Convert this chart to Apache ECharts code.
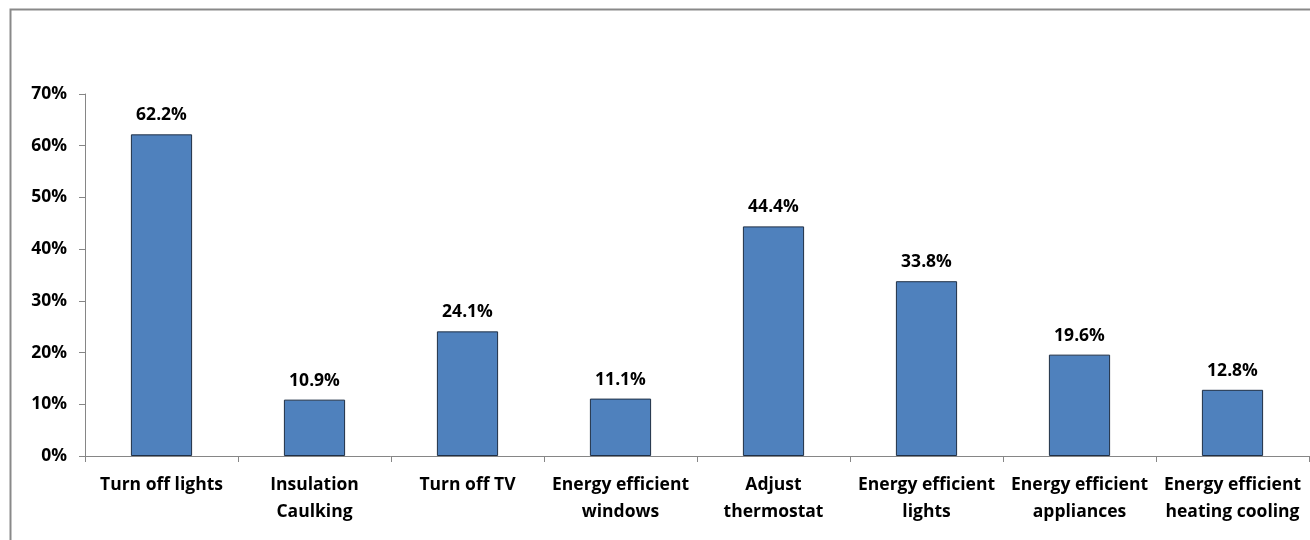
<!DOCTYPE html>
<html>
<head>
<meta charset="utf-8">
<script src="https://cdn.jsdelivr.net/npm/echarts@6/dist/echarts.min.js"></script>
<style>
  html, body { margin: 0; padding: 0; background: #fff; }
  #chart { width: 1310px; height: 540px; }
</style>
</head>
<body>
<div id="chart"></div>
<script>
// Share of respondents taking each energy-saving action (percent)
const categories = [
  'Turn off lights',
  'Insulation\nCaulking',
  'Turn off TV',
  'Energy efficient\nwindows',
  'Adjust\nthermostat',
  'Energy efficient\nlights',
  'Energy efficient\nappliances',
  'Energy efficient\nheating cooling'
];
const values = [62.2, 10.9, 24.1, 11.1, 44.4, 33.8, 19.6, 12.8];
const yTicks = [0, 10, 20, 30, 40, 50, 60, 70];

const font = '"Open Sans", Lato, sans-serif';
const chart = echarts.init(document.getElementById('chart'), null, { renderer: 'canvas' });

chart.setOption({
  animation: false,
  backgroundColor: '#ffffff',
  graphic: [{
    type: 'rect',
    left: 8, top: 7,
    shape: { width: 1330, height: 580 },
    style: { fill: 'none', stroke: '#898989', lineWidth: 2 },
    silent: true
  }],
  grid: { left: 85, right: 1, top: 94, bottom: 84, containLabel: false },
  xAxis: {
    type: 'category',
    data: categories,
    boundaryGap: true,
    axisLine: { lineStyle: { color: '#868686', width: 1 } },
    axisTick: { show: true, alignWithLabel: false, length: 6, lineStyle: { color: '#868686' } },
    axisLabel: {
      interval: 0,
      color: '#000',
      fontFamily: font,
      fontWeight: 'bold',
      fontSize: 17.5,
      lineHeight: 27,
      margin: 16
    }
  },
  yAxis: {
    type: 'value',
    min: 0, max: 70, interval: 10,
    axisLine: { show: true, lineStyle: { color: '#868686', width: 1 } },
    axisTick: { show: true, length: 6, lineStyle: { color: '#868686' } },
    splitLine: { show: false },
    axisLabel: {
      color: '#000',
      fontFamily: font,
      fontWeight: 'bold',
      fontSize: 17.5,
      margin: 18,
      formatter: v => (yTicks.includes(v) ? v + '%' : '')
    }
  },
  series: [{
    type: 'bar',
    data: values,
    barWidth: '40%',
    itemStyle: { color: '#4F81BD', borderColor: '#1F2F45', borderWidth: 1 },
    label: {
      show: true,
      position: 'top',
      distance: 10,
      color: '#000',
      fontFamily: font,
      fontWeight: 'bold',
      fontSize: 17.5,
      formatter: p => p.value.toFixed(1) + '%'
    }
  }]
});
</script>
</body>
</html>
